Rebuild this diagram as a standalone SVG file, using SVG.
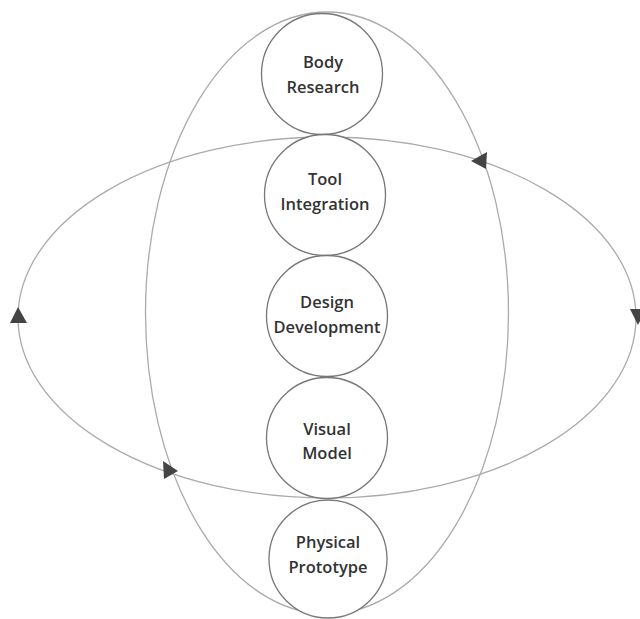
<svg xmlns="http://www.w3.org/2000/svg" width="640" height="619" viewBox="0 0 640 619">
  <style>
    .orbit { fill: none; stroke: #ababab; stroke-width: 1.3; }
    .arrow { fill: #444; }
    .node circle { fill: #fff; stroke: #777; stroke-width: 1.3; }
    .node text { font-family: "Open Sans", "Noto Sans", "Liberation Sans", sans-serif; font-size: 16.5px; font-weight: 600; fill: #333; text-anchor: middle; }
  </style>
  <rect width="640" height="619" fill="#fff"/>
  <g id="connectors">
    <ellipse class="orbit" cx="327" cy="313" rx="181.5" ry="301"/>
    <ellipse class="orbit" cx="327" cy="317.5" rx="309" ry="180.5"/>
    <polygon class="arrow" points="18,307 10,323 27,323"/>
    <polygon class="arrow" points="630,309 646,309 638,325"/>
    <polygon class="arrow" points="471,161 487,152 486,169"/>
    <polygon class="arrow" points="178,471 163,461 164,479"/>
  </g>
  <g id="body-research" class="node">
    <circle cx="322" cy="74" r="60.5"/>
    <text x="323" y="68">Body</text>
    <text x="323" y="93">Research</text>
  </g>
  <g id="tool-integration" class="node">
    <circle cx="325" cy="195" r="60.5"/>
    <text x="325" y="185">Tool</text>
    <text x="325" y="210">Integration</text>
  </g>
  <g id="design-development" class="node">
    <circle cx="327" cy="316" r="60.5"/>
    <text x="327" y="308">Design</text>
    <text x="327" y="333">Development</text>
  </g>
  <g id="visual-model" class="node">
    <circle cx="327" cy="438" r="60.5"/>
    <text x="327" y="435">Visual</text>
    <text x="327" y="459">Model</text>
  </g>
  <g id="physical-prototype" class="node">
    <circle cx="328" cy="559" r="59"/>
    <text x="328" y="548">Physical</text>
    <text x="328" y="573">Prototype</text>
  </g>
</svg>
